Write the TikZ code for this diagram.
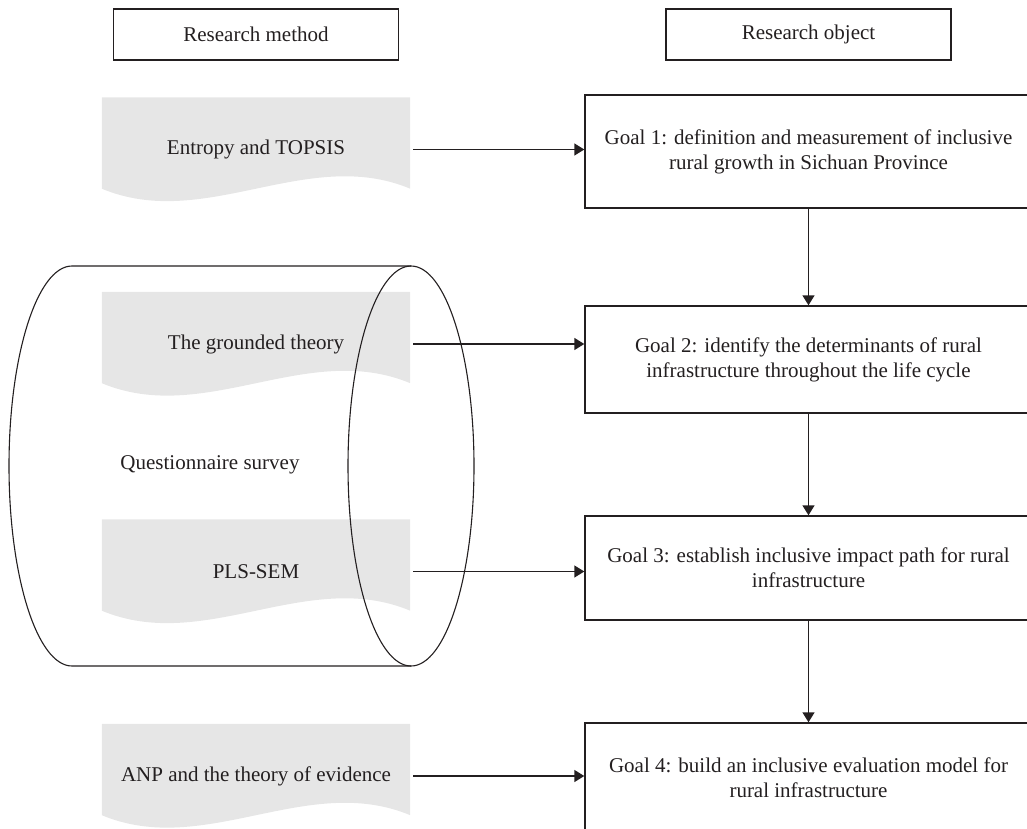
\documentclass[tikz,border=0pt]{standalone}
\usepackage{fontspec}
\setmainfont{Liberation Serif}
\usetikzlibrary{arrows.meta,backgrounds}
\definecolor{docgray}{HTML}{E6E6E6}
\definecolor{inkgray}{HTML}{231F20}

\begin{document}
\begin{tikzpicture}[x=1pt,y=-1pt,
  every node/.style={font=\fontsize{21}{25}\selectfont,text=inkgray},
  headbox/.style={draw=inkgray,line width=1.4pt,minimum width=285pt,minimum height=51pt},
  goalbox/.style={draw=inkgray,line width=1.4pt,minimum width=447pt,align=center,inner sep=0pt},
  docnode/.style={minimum width=308pt,minimum height=104pt,inner sep=0pt},
  link/.style={draw=inkgray,line width=1.4pt,-{Triangle[length=10pt,width=12pt]}}]
  \clip (0,0) rectangle (1027,829);

  % headings
  \node[headbox] (method) at (256,34.5) {Research method};
  \node[headbox] (object) at (808.5,34.5) {Research object};

  % methods
  \node[docnode] (ent) at (256,149.5) {Entropy and TOPSIS};
  \node[docnode] (grd) at (256,344) {The grounded theory};
  \node[docnode] (pls) at (256,571.5) {PLS-SEM};
  \node[docnode] (anp) at (256,776) {ANP and the theory of evidence};
  \node (quest) at (210,465) {Questionnaire survey};

  % goals
  \node[goalbox,minimum height=113pt] (g1) at (808.5,151.5) {Goal 1: definition and measurement of inclusive\\rural growth in Sichuan Province};
  \node[goalbox,minimum height=107pt] (g2) at (808.5,359.5) {Goal 2: identify the determinants of rural\\infrastructure throughout the life cycle};
  \node[goalbox,minimum height=104pt] (g3) at (808.5,568) {Goal 3: establish inclusive impact path for rural\\infrastructure};
  \node[goalbox,minimum height=110pt] (g4) at (808.5,778) {Goal 4: build an inclusive evaluation model for\\rural infrastructure};

  % document shapes
  \begin{scope}[on background layer]
    \foreach \n in {ent,grd,pls,anp}
      \fill[docgray] (\n.north west) -- (\n.north east) -- ([yshift=13pt]\n.south east)
        .. controls ([shift={(-103,-56)}]\n.south east) and ([shift={(103,30)}]\n.south west) .. ([yshift=13pt]\n.south west) -- cycle;
  \end{scope}

  % cylinder
  \draw[inkgray,line width=1.1pt] (411,266) -- (72,266) arc[start angle=270,end angle=90,x radius=63,y radius=200] -- (411,666);
  \draw[inkgray,line width=1.1pt] (411,466) ellipse [x radius=63,y radius=200];

  \draw[link,shorten <=3pt] (ent.east) -- (ent.east -| g1.west);
  \draw[link,shorten <=3pt] (grd.east) -- (grd.east -| g2.west);
  \draw[link,shorten <=3pt] (pls.east) -- (pls.east -| g3.west);
  \draw[link,shorten <=3pt] (anp.east) -- (anp.east -| g4.west);
  \draw[link] (g1) -- (g2);
  \draw[link] (g2) -- (g3);
  \draw[link] (g3) -- (g4);
\end{tikzpicture}
\end{document}
